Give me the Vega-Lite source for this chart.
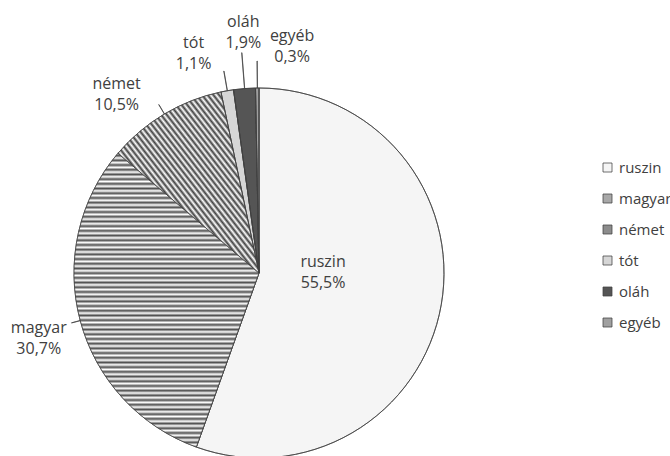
{
  "$schema": "https://vega.github.io/schema/vega-lite/v6.json",
  "width": 370,
  "height": 370,
  "padding": {"left": 74, "top": 88, "right": 226, "bottom": 0},
  "autosize": {"type": "none"},
  "background": "white",
  "config": {"view": {"stroke": null}, "font": "Open Sans"},
  "data": {"values": [
    {"nyelv": "ruszin", "szazalek": 55.5, "felirat": "55,5%", "sorrend": 1},
    {"nyelv": "magyar", "szazalek": 30.7, "felirat": "30,7%", "sorrend": 2},
    {"nyelv": "német", "szazalek": 10.5, "felirat": "10,5%", "sorrend": 3},
    {"nyelv": "tót", "szazalek": 1.1, "felirat": "1,1%", "sorrend": 4},
    {"nyelv": "oláh", "szazalek": 1.9, "felirat": "1,9%", "sorrend": 5},
    {"nyelv": "egyéb", "szazalek": 0.3, "felirat": "0,3%", "sorrend": 6}
  ]},
  "layer": [
    {
      "mark": {"type": "arc", "outerRadius": 185, "stroke": "#404040", "strokeWidth": 0.75},
      "encoding": {
        "theta": {"field": "szazalek", "type": "quantitative", "stack": true},
        "order": {"field": "sorrend", "type": "quantitative"},
        "fill": {
          "field": "nyelv",
          "type": "nominal",
          "scale": {
            "domain": ["ruszin", "magyar", "német", "tót", "oláh", "egyéb"],
            "range": ["#f5f5f5", "#a8a8a8", "#8c8c8c", "#d6d6d6", "#555555", "#a0a0a0"]
          },
          "legend": {
            "orient": "none",
            "legendX": 526,
            "legendY": 72,
            "title": null,
            "symbolType": "square",
            "symbolSize": 81,
            "symbolStrokeColor": "#404040",
            "symbolStrokeWidth": 0.75,
            "labelFontSize": 15,
            "labelColor": "#404040",
            "labelFont": "Open Sans",
            "rowPadding": 15,
            "labelOffset": 4,
            "padding": 0
          }
        }
      }
    },
    {
      "mark": {"type": "arc", "outerRadius": 185, "stroke": "#404040", "strokeWidth": 0.75},
      "encoding": {
        "theta": {"field": "szazalek", "type": "quantitative", "stack": true},
        "order": {"field": "sorrend", "type": "quantitative"},
        "fill": {
          "condition": [
            {"test": "datum.nyelv === 'magyar'", "value": {"gradient": "linear", "x1": 0, "y1": 0, "x2": 0, "y2": 1, "stops": [
              {"offset": 0, "color": "#ffffff"}, {"offset": 0.008, "color": "#505050"}, {"offset": 0.016, "color": "#ffffff"}, {"offset": 0.024, "color": "#505050"},
              {"offset": 0.032, "color": "#ffffff"}, {"offset": 0.04, "color": "#505050"}, {"offset": 0.048, "color": "#ffffff"}, {"offset": 0.056, "color": "#505050"},
              {"offset": 0.064, "color": "#ffffff"}, {"offset": 0.072, "color": "#505050"}, {"offset": 0.08, "color": "#ffffff"}, {"offset": 0.088, "color": "#505050"},
              {"offset": 0.096, "color": "#ffffff"}, {"offset": 0.104, "color": "#505050"}, {"offset": 0.112, "color": "#ffffff"}, {"offset": 0.12, "color": "#505050"},
              {"offset": 0.128, "color": "#ffffff"}, {"offset": 0.136, "color": "#505050"}, {"offset": 0.144, "color": "#ffffff"}, {"offset": 0.152, "color": "#505050"},
              {"offset": 0.16, "color": "#ffffff"}, {"offset": 0.168, "color": "#505050"}, {"offset": 0.176, "color": "#ffffff"}, {"offset": 0.184, "color": "#505050"},
              {"offset": 0.192, "color": "#ffffff"}, {"offset": 0.2, "color": "#505050"}, {"offset": 0.208, "color": "#ffffff"}, {"offset": 0.216, "color": "#505050"},
              {"offset": 0.224, "color": "#ffffff"}, {"offset": 0.232, "color": "#505050"}, {"offset": 0.24, "color": "#ffffff"}, {"offset": 0.248, "color": "#505050"},
              {"offset": 0.256, "color": "#ffffff"}, {"offset": 0.264, "color": "#505050"}, {"offset": 0.272, "color": "#ffffff"}, {"offset": 0.28, "color": "#505050"},
              {"offset": 0.288, "color": "#ffffff"}, {"offset": 0.296, "color": "#505050"}, {"offset": 0.304, "color": "#ffffff"}, {"offset": 0.312, "color": "#505050"},
              {"offset": 0.32, "color": "#ffffff"}, {"offset": 0.328, "color": "#505050"}, {"offset": 0.336, "color": "#ffffff"}, {"offset": 0.344, "color": "#505050"},
              {"offset": 0.352, "color": "#ffffff"}, {"offset": 0.36, "color": "#505050"}, {"offset": 0.368, "color": "#ffffff"}, {"offset": 0.376, "color": "#505050"},
              {"offset": 0.384, "color": "#ffffff"}, {"offset": 0.392, "color": "#505050"}, {"offset": 0.4, "color": "#ffffff"}, {"offset": 0.408, "color": "#505050"},
              {"offset": 0.416, "color": "#ffffff"}, {"offset": 0.424, "color": "#505050"}, {"offset": 0.432, "color": "#ffffff"}, {"offset": 0.44, "color": "#505050"},
              {"offset": 0.448, "color": "#ffffff"}, {"offset": 0.456, "color": "#505050"}, {"offset": 0.464, "color": "#ffffff"}, {"offset": 0.472, "color": "#505050"},
              {"offset": 0.48, "color": "#ffffff"}, {"offset": 0.488, "color": "#505050"}, {"offset": 0.496, "color": "#ffffff"}, {"offset": 0.504, "color": "#505050"},
              {"offset": 0.512, "color": "#ffffff"}, {"offset": 0.52, "color": "#505050"}, {"offset": 0.528, "color": "#ffffff"}, {"offset": 0.536, "color": "#505050"},
              {"offset": 0.544, "color": "#ffffff"}, {"offset": 0.552, "color": "#505050"}, {"offset": 0.56, "color": "#ffffff"}, {"offset": 0.568, "color": "#505050"},
              {"offset": 0.576, "color": "#ffffff"}, {"offset": 0.584, "color": "#505050"}, {"offset": 0.592, "color": "#ffffff"}, {"offset": 0.6, "color": "#505050"},
              {"offset": 0.608, "color": "#ffffff"}, {"offset": 0.616, "color": "#505050"}, {"offset": 0.624, "color": "#ffffff"}, {"offset": 0.632, "color": "#505050"},
              {"offset": 0.64, "color": "#ffffff"}, {"offset": 0.648, "color": "#505050"}, {"offset": 0.656, "color": "#ffffff"}, {"offset": 0.664, "color": "#505050"},
              {"offset": 0.672, "color": "#ffffff"}, {"offset": 0.68, "color": "#505050"}, {"offset": 0.688, "color": "#ffffff"}, {"offset": 0.696, "color": "#505050"},
              {"offset": 0.704, "color": "#ffffff"}, {"offset": 0.712, "color": "#505050"}, {"offset": 0.72, "color": "#ffffff"}, {"offset": 0.728, "color": "#505050"},
              {"offset": 0.736, "color": "#ffffff"}, {"offset": 0.744, "color": "#505050"}, {"offset": 0.752, "color": "#ffffff"}, {"offset": 0.76, "color": "#505050"},
              {"offset": 0.768, "color": "#ffffff"}, {"offset": 0.776, "color": "#505050"}, {"offset": 0.784, "color": "#ffffff"}, {"offset": 0.792, "color": "#505050"},
              {"offset": 0.8, "color": "#ffffff"}, {"offset": 0.808, "color": "#505050"}, {"offset": 0.816, "color": "#ffffff"}, {"offset": 0.824, "color": "#505050"},
              {"offset": 0.832, "color": "#ffffff"}, {"offset": 0.84, "color": "#505050"}, {"offset": 0.848, "color": "#ffffff"}, {"offset": 0.856, "color": "#505050"},
              {"offset": 0.864, "color": "#ffffff"}, {"offset": 0.872, "color": "#505050"}, {"offset": 0.88, "color": "#ffffff"}, {"offset": 0.888, "color": "#505050"},
              {"offset": 0.896, "color": "#ffffff"}, {"offset": 0.904, "color": "#505050"}, {"offset": 0.912, "color": "#ffffff"}, {"offset": 0.92, "color": "#505050"},
              {"offset": 0.928, "color": "#ffffff"}, {"offset": 0.936, "color": "#505050"}, {"offset": 0.944, "color": "#ffffff"}, {"offset": 0.952, "color": "#505050"},
              {"offset": 0.96, "color": "#ffffff"}, {"offset": 0.968, "color": "#505050"}, {"offset": 0.976, "color": "#ffffff"}, {"offset": 0.984, "color": "#505050"},
              {"offset": 0.992, "color": "#ffffff"}, {"offset": 1, "color": "#505050"}
            ]}},
            {"test": "datum.nyelv === 'német'", "value": {"gradient": "linear", "x1": 0, "y1": 1, "x2": 1, "y2": 0, "stops": [
              {"offset": 0, "color": "#ffffff"}, {"offset": 0.01, "color": "#404040"}, {"offset": 0.02, "color": "#ffffff"}, {"offset": 0.03, "color": "#404040"},
              {"offset": 0.04, "color": "#ffffff"}, {"offset": 0.05, "color": "#404040"}, {"offset": 0.06, "color": "#ffffff"}, {"offset": 0.07, "color": "#404040"},
              {"offset": 0.08, "color": "#ffffff"}, {"offset": 0.09, "color": "#404040"}, {"offset": 0.1, "color": "#ffffff"}, {"offset": 0.11, "color": "#404040"},
              {"offset": 0.12, "color": "#ffffff"}, {"offset": 0.13, "color": "#404040"}, {"offset": 0.14, "color": "#ffffff"}, {"offset": 0.15, "color": "#404040"},
              {"offset": 0.16, "color": "#ffffff"}, {"offset": 0.17, "color": "#404040"}, {"offset": 0.18, "color": "#ffffff"}, {"offset": 0.19, "color": "#404040"},
              {"offset": 0.2, "color": "#ffffff"}, {"offset": 0.21, "color": "#404040"}, {"offset": 0.22, "color": "#ffffff"}, {"offset": 0.23, "color": "#404040"},
              {"offset": 0.24, "color": "#ffffff"}, {"offset": 0.25, "color": "#404040"}, {"offset": 0.26, "color": "#ffffff"}, {"offset": 0.27, "color": "#404040"},
              {"offset": 0.28, "color": "#ffffff"}, {"offset": 0.29, "color": "#404040"}, {"offset": 0.3, "color": "#ffffff"}, {"offset": 0.31, "color": "#404040"},
              {"offset": 0.32, "color": "#ffffff"}, {"offset": 0.33, "color": "#404040"}, {"offset": 0.34, "color": "#ffffff"}, {"offset": 0.35, "color": "#404040"},
              {"offset": 0.36, "color": "#ffffff"}, {"offset": 0.37, "color": "#404040"}, {"offset": 0.38, "color": "#ffffff"}, {"offset": 0.39, "color": "#404040"},
              {"offset": 0.4, "color": "#ffffff"}, {"offset": 0.41, "color": "#404040"}, {"offset": 0.42, "color": "#ffffff"}, {"offset": 0.43, "color": "#404040"},
              {"offset": 0.44, "color": "#ffffff"}, {"offset": 0.45, "color": "#404040"}, {"offset": 0.46, "color": "#ffffff"}, {"offset": 0.47, "color": "#404040"},
              {"offset": 0.48, "color": "#ffffff"}, {"offset": 0.49, "color": "#404040"}, {"offset": 0.5, "color": "#ffffff"}, {"offset": 0.51, "color": "#404040"},
              {"offset": 0.52, "color": "#ffffff"}, {"offset": 0.53, "color": "#404040"}, {"offset": 0.54, "color": "#ffffff"}, {"offset": 0.55, "color": "#404040"},
              {"offset": 0.56, "color": "#ffffff"}, {"offset": 0.57, "color": "#404040"}, {"offset": 0.58, "color": "#ffffff"}, {"offset": 0.59, "color": "#404040"},
              {"offset": 0.6, "color": "#ffffff"}, {"offset": 0.61, "color": "#404040"}, {"offset": 0.62, "color": "#ffffff"}, {"offset": 0.63, "color": "#404040"},
              {"offset": 0.64, "color": "#ffffff"}, {"offset": 0.65, "color": "#404040"}, {"offset": 0.66, "color": "#ffffff"}, {"offset": 0.67, "color": "#404040"},
              {"offset": 0.68, "color": "#ffffff"}, {"offset": 0.69, "color": "#404040"}, {"offset": 0.7, "color": "#ffffff"}, {"offset": 0.71, "color": "#404040"},
              {"offset": 0.72, "color": "#ffffff"}, {"offset": 0.73, "color": "#404040"}, {"offset": 0.74, "color": "#ffffff"}, {"offset": 0.75, "color": "#404040"},
              {"offset": 0.76, "color": "#ffffff"}, {"offset": 0.77, "color": "#404040"}, {"offset": 0.78, "color": "#ffffff"}, {"offset": 0.79, "color": "#404040"},
              {"offset": 0.8, "color": "#ffffff"}, {"offset": 0.81, "color": "#404040"}, {"offset": 0.82, "color": "#ffffff"}, {"offset": 0.83, "color": "#404040"},
              {"offset": 0.84, "color": "#ffffff"}, {"offset": 0.85, "color": "#404040"}, {"offset": 0.86, "color": "#ffffff"}, {"offset": 0.87, "color": "#404040"},
              {"offset": 0.88, "color": "#ffffff"}, {"offset": 0.89, "color": "#404040"}, {"offset": 0.9, "color": "#ffffff"}, {"offset": 0.91, "color": "#404040"},
              {"offset": 0.92, "color": "#ffffff"}, {"offset": 0.93, "color": "#404040"}, {"offset": 0.94, "color": "#ffffff"}, {"offset": 0.95, "color": "#404040"},
              {"offset": 0.96, "color": "#ffffff"}, {"offset": 0.97, "color": "#404040"}, {"offset": 0.98, "color": "#ffffff"}, {"offset": 0.99, "color": "#404040"},
              {"offset": 1, "color": "#ffffff"}
            ]}}
          ],
          "value": null
        }
      }
    },
    {
      "transform": [
        {"stack": "szazalek", "groupby": [], "sort": [{"field": "sorrend", "order": "ascending"}], "as": ["v0", "v1"]},
        {"filter": "datum.nyelv !== 'ruszin'"},
        {"calculate": "(datum.v0 + datum.v1) / 2", "as": "kozep"},
        {"calculate": "(datum.v0 + datum.v1) / 2 + 0.02", "as": "kozep2"}
      ],
      "mark": {
        "type": "arc",
        "innerRadius": 185,
        "outerRadius": {"expr": "datum.nyelv === 'magyar' ? 194 : datum.nyelv === 'német' ? 196 : datum.nyelv === 'tót' ? 205 : datum.nyelv === 'oláh' ? 221 : 212"},
        "stroke": "#404040",
        "strokeWidth": 0.75,
        "fill": null
      },
      "encoding": {
        "theta": {"field": "kozep", "type": "quantitative", "stack": null},
        "theta2": {"field": "kozep2"}
      }
    },
    {
      "transform": [{"calculate": "datum.nyelv + '\\n' + datum.felirat", "as": "cimke"}],
      "mark": {
        "type": "text",
        "fontSize": 16,
        "font": "Open Sans",
        "fill": "#404040",
        "lineBreak": "\n",
        "lineHeight": 21,
        "align": "center",
        "baseline": "middle",
        "radius": {"expr": "datum.nyelv === 'ruszin' ? 64 : 200"},
        "dx": {"expr": "datum.nyelv === 'ruszin' ? 1 : datum.nyelv === 'magyar' ? -27 : datum.nyelv === 'német' ? -40 : datum.nyelv === 'tót' ? -31 : datum.nyelv === 'oláh' ? 0 : 35"},
        "dy": {"expr": "datum.nyelv === 'ruszin' ? -22 : datum.nyelv === 'magyar' ? 3 : datum.nyelv === 'német' ? -17 : datum.nyelv === 'tót' ? -33 : datum.nyelv === 'oláh' ? -52 : -37"}
      },
      "encoding": {
        "theta": {"field": "szazalek", "type": "quantitative", "stack": true},
        "order": {"field": "sorrend", "type": "quantitative"},
        "text": {"field": "cimke", "type": "nominal"}
      }
    }
  ]
}
